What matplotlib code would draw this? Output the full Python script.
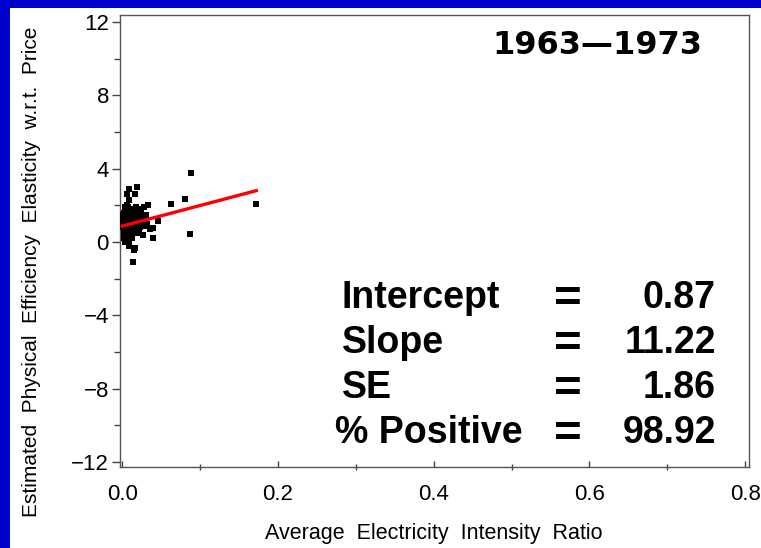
import matplotlib
matplotlib.use('Agg')
from matplotlib import pyplot as plt
from matplotlib.patches import Rectangle
from matplotlib.ticker import MultipleLocator

# data
ratio = [0.002, 0.004, 0.001, 0.006, 0.003, 0.008, 0.005, 0.010, 0.002, 0.007,
         0.012, 0.004, 0.009, 0.003, 0.015, 0.006, 0.001, 0.011, 0.005, 0.013,
         0.002, 0.008, 0.017, 0.004, 0.010, 0.006, 0.020, 0.003, 0.014, 0.007,
         0.001, 0.009, 0.016, 0.005, 0.012, 0.002, 0.018, 0.008, 0.022, 0.004,
         0.011, 0.006, 0.025, 0.003, 0.013, 0.007, 0.019, 0.002, 0.010, 0.005,
         0.028, 0.009, 0.015, 0.001, 0.021, 0.006, 0.012, 0.004, 0.024, 0.008,
         0.003, 0.017, 0.007, 0.030, 0.002, 0.014, 0.010, 0.005, 0.026, 0.009,
         0.001, 0.019, 0.006, 0.011, 0.003, 0.023, 0.008, 0.013, 0.004, 0.016,
         0.032, 0.007, 0.002, 0.020, 0.010, 0.005, 0.027, 0.012, 0.003, 0.009,
         0.088, 0.172, 0.081, 0.062, 0.087, 0.046, 0.040, 0.014, 0.019, 0.009,
         0.016, 0.006, 0.008, 0.033, 0.028, 0.040, 0.035, 0.016, 0.015, 0.031,
         0.024, 0.018, 0.029, 0.013, 0.021, 0.026, 0.011, 0.017, 0.023, 0.007]
elasticity = [0.5, 1.2, 0.8, 1.6, 0.3, 1.0, 1.9, 0.7, 1.4, 0.2,
              1.1, 0.6, 1.7, 1.3, 0.9, 0.4, 1.5, 1.8, 0.1, 1.2,
              0.9, 1.5, 1.0, 0.0, 1.3, 0.7, 1.6, 1.1, 0.5, 1.9,
              1.0, 0.3, 1.4, 1.7, 0.8, 0.6, 1.2, 1.1, 1.8, 0.9,
              1.5, 1.3, 1.0, 1.8, 0.4, 0.6, 1.4, 0.2, 1.7, 0.8,
              1.2, 0.5, 1.6, 1.4, 0.9, 1.0, 0.2, 1.5, 1.7, 0.1,
              0.7, 1.1, 1.3, 1.5, 1.6, 0.6, 0.9, 1.2, 0.4, 1.8,
              1.1, 0.8, 2.0, 1.6, 0.5, 1.3, 0.3, 1.0, 1.9, 0.7,
              1.0, 0.0, 1.3, 0.6, 1.5, 0.8, 1.4, 0.4, 1.6, -0.2,
              3.75, 2.05, 2.37, 2.1, 0.45, 1.14, 0.24, -1.1, 3.0, 2.9,
              2.6, 2.6, 2.3, 2.0, 1.9, 0.77, 0.7, -0.35, -0.45, 0.9,
              1.3, 0.7, 1.5, 1.6, 0.5, 1.1, 0.4, 1.9, 0.8, 1.3]
intercept = 0.87
slope = 11.22
se = 1.86
pct_positive = 98.92
period = '1963\u20141973'

W, H = 761, 548
fig = plt.figure(figsize=(W / 100, H / 100), dpi=100, facecolor='#0000cc')
fig.patches.append(Rectangle((10 / W, 0), 1, 1 - 8 / H, transform=fig.transFigure,
                             facecolor='white', edgecolor='none', zorder=-10))

ax = fig.add_axes([120 / W, 1 - 467 / H, 629 / W, 452 / H])
ax.set_facecolor('white')

ax.scatter(ratio, elasticity, marker='s', s=16, color='black', linewidths=0, zorder=3)
xline = [0, max(ratio)]
ax.plot(xline, [intercept + slope * v for v in xline], color='red', lw=2.4, zorder=4)

ax.set_xlim(-0.003, 0.805)
ax.set_ylim(-12.27, 12.38)
ax.xaxis.set_minor_locator(MultipleLocator(0.1))
ax.yaxis.set_minor_locator(MultipleLocator(2))
ax.set_xticks([0, 0.2, 0.4, 0.6, 0.8])
ax.set_xticklabels(['0.0', '0.2', '0.4', '0.6', '0.8'], fontsize=16, family='Liberation Sans')
ax.set_yticks([-12, -8, -4, 0, 4, 8, 12])
ax.set_yticklabels(['\u221212', '\u22128', '\u22124', '0', '4', '8', '12'],
                   fontsize=16, family='Liberation Sans')
ax.tick_params(axis='x', which='major', direction='in', length=4, width=1, color='#444444', pad=12)
ax.tick_params(axis='x', which='minor', direction='inout', length=4, width=1, color='#444444')
ax.tick_params(axis='y', which='major', direction='out', length=6, width=1, color='#444444', pad=2)
ax.tick_params(axis='y', which='minor', direction='out', length=4, width=1, color='#444444')
for s in ax.spines.values():
    s.set_color('#555555')
    s.set_linewidth(1)

fig.text(32 / W, 1 - 272 / H, 'Estimated  Physical  Efficiency  Elasticity  w.r.t.  Price',
         rotation=90, ha='center', va='center', fontsize=15, family='Liberation Sans')
fig.text(434 / W, 1 - 533 / H, 'Average  Electricity  Intensity  Ratio',
         ha='center', va='center', fontsize=15.5, family='Liberation Sans')

fig.text(597 / W, 1 - 45 / H, period, ha='center', va='center', fontsize=23,
         fontweight='heavy', family='DejaVu Sans')

rows = [('Intercept', intercept, 298, 342), ('Slope', slope, 343, 342),
        ('SE', se, 388, 342), ('% Positive', pct_positive, 433, 335)]
for name, val, y, x0 in rows:
    fig.text(x0 / W, 1 - y / H, name, ha='left', va='center', fontsize=27,
             fontweight='bold', family='Liberation Sans')
    fig.text(568 / W, 1 - (y + 2) / H, '=', ha='center', va='center', fontsize=34,
             fontweight='bold', family='Liberation Sans')
    fig.text(716 / W, 1 - y / H, f'{val:.2f}', ha='right', va='center', fontsize=27,
             fontweight='bold', family='Liberation Sans')

fig.savefig('out.png', dpi=100, facecolor=fig.get_facecolor())
